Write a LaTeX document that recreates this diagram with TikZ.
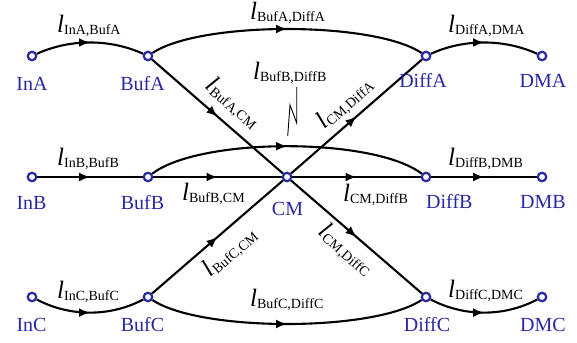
\documentclass[tikz,border=0pt]{standalone}
\usepackage{fontspec}
\setmainfont{Liberation Serif}
\usetikzlibrary{arrows.meta,decorations.markings}
\definecolor{nodeblue}{RGB}{40,40,165}
\newcommand{\edgelab}[1]{{\fontsize{25}{25}\selectfont\itshape l}\raisebox{-2pt}{\fontsize{14}{14}\selectfont #1}}
\begin{document}
\begin{tikzpicture}[x=1pt,y=-1pt,
 pt/.style={circle,draw=nodeblue,fill=white,line width=2.2pt,minimum size=8.5pt,inner sep=0pt},
 nlab/.style={text=nodeblue,font=\fontsize{20}{20}\selectfont,anchor=base,inner sep=0pt},
 elab/.style={inner sep=0pt,anchor=base west},
 rlab/.style={inner sep=0pt,anchor=center},
 edge/.style={line width=2.1pt,postaction={decorate},decoration={markings,mark=at position 0.5 with {\arrow{Latex[length=11pt,width=9pt]}}}},
 ptr/.style={line width=0.9pt}
]
\useasboundingbox (0,0) rectangle (577,342);
% nodes
\node[pt] (InA) at (32,56) {};
\node[pt] (BufA) at (148,56) {};
\node[pt] (DiffA) at (426,56) {};
\node[pt] (DMA) at (542,56) {};
\node[pt] (InB) at (32,177) {};
\node[pt] (BufB) at (148,177) {};
\node[pt] (CM) at (287,177) {};
\node[pt] (DiffB) at (426,177) {};
\node[pt] (DMB) at (542,177) {};
\node[pt] (InC) at (32,297) {};
\node[pt] (BufC) at (148,297) {};
\node[pt] (DiffC) at (426,297) {};
\node[pt] (DMC) at (542,297) {};
% edges
\draw[edge] (InA) .. controls (70,38.7) and (110,38.7) .. (BufA);
\draw[edge] (BufA) .. controls (200,21) and (374,21) .. (DiffA);
\draw[edge] (DiffA) .. controls (464,38.7) and (504,38.7) .. (DMA);
\draw[edge] (BufA) -- (CM);
\draw[edge] (CM) -- (DiffA);
\draw[edge] (InB) -- (BufB);
\draw[edge] (BufB) -- (CM);
\draw[edge] (BufB) .. controls (200,137) and (374,137) .. (DiffB);
\draw[edge] (CM) -- (DiffB);
\draw[edge] (DiffB) -- (DMB);
\draw[edge] (BufC) -- (CM);
\draw[edge] (CM) -- (DiffC);
\draw[edge] (InC) .. controls (70,317) and (110,317) .. (BufC);
\draw[edge] (BufC) .. controls (200,332) and (374,332) .. (DiffC);
\draw[edge] (DiffC) .. controls (464,317) and (504,317) .. (DMC);
% node labels
\node[nlab] (tInA) at (32,91) {InA};
\node[nlab] (tBufA) at (142.5,91) {BufA};
\node[nlab] (tDiffA) at (423,88) {DiffA};
\node[nlab] (tDMA) at (543,88) {DMA};
\node[nlab] (tInB) at (31.5,209) {InB};
\node[nlab] (tBufB) at (142.5,209) {BufB};
\node[nlab] (tCM) at (287.5,215) {CM};
\node[nlab,anchor=base west] (tDiffB) at (426,208) {DiffB};
\node[nlab] (tDMB) at (543,208) {DMB};
\node[nlab] (tInC) at (31.5,331) {InC};
\node[nlab] (tBufC) at (142.5,331) {BufC};
\node[nlab] (tDiffC) at (427,331) {DiffC};
\node[nlab] (tDMC) at (543,331) {DMC};
% edge labels
\node[elab] (lInABufA) at (57,33) {\edgelab{InA,BufA}};
\node[elab] (lBufADiffA) at (250,20) {\edgelab{BufA,DiffA}};
\node[elab] (lDiffADMA) at (448,33) {\edgelab{DiffA,DMA}};
\node[elab] (lInBBufB) at (57,165) {\edgelab{InB,BufB}};
\node[elab] (lBufBDiffB) at (253,80) {\edgelab{BufB,DiffB}};
\node[elab] (lBufBCM) at (182,200) {\edgelab{BufB,CM}};
\node[elab] (lCMDiffB) at (343,201) {\edgelab{CM,DiffB}};
\node[elab] (lDiffBDMB) at (448,165) {\edgelab{DiffB,DMB}};
\node[elab] (lInCBufC) at (57,298) {\edgelab{InC,BufC}};
\node[elab] (lBufCDiffC) at (250,306) {\edgelab{BufC,DiffC}};
\node[elab] (lDiffCDMC) at (448,297) {\edgelab{DiffC,DMC}};
\node[rlab,rotate=-41] (lBufACM) at (233,103) {\edgelab{BufA,CM}};
\node[rlab,rotate=41] (lCMDiffA) at (345,103) {\edgelab{CM,DiffA}};
\node[rlab,rotate=41] (lBufCCM) at (230,252) {\edgelab{BufC,CM}};
\node[rlab,rotate=-41] (lCMDiffC) at (346,250) {\edgelab{CM,DiffC}};
% pointer
\coordinate (z1) at (296.7,87);
\coordinate (z2) at (296.7,123);
\coordinate (z3) at (290,105);
\coordinate (z4) at (287.7,136);
\draw[ptr] (z1) -- (z2) -- (z3) -- (z4);
\end{tikzpicture}
\end{document}
